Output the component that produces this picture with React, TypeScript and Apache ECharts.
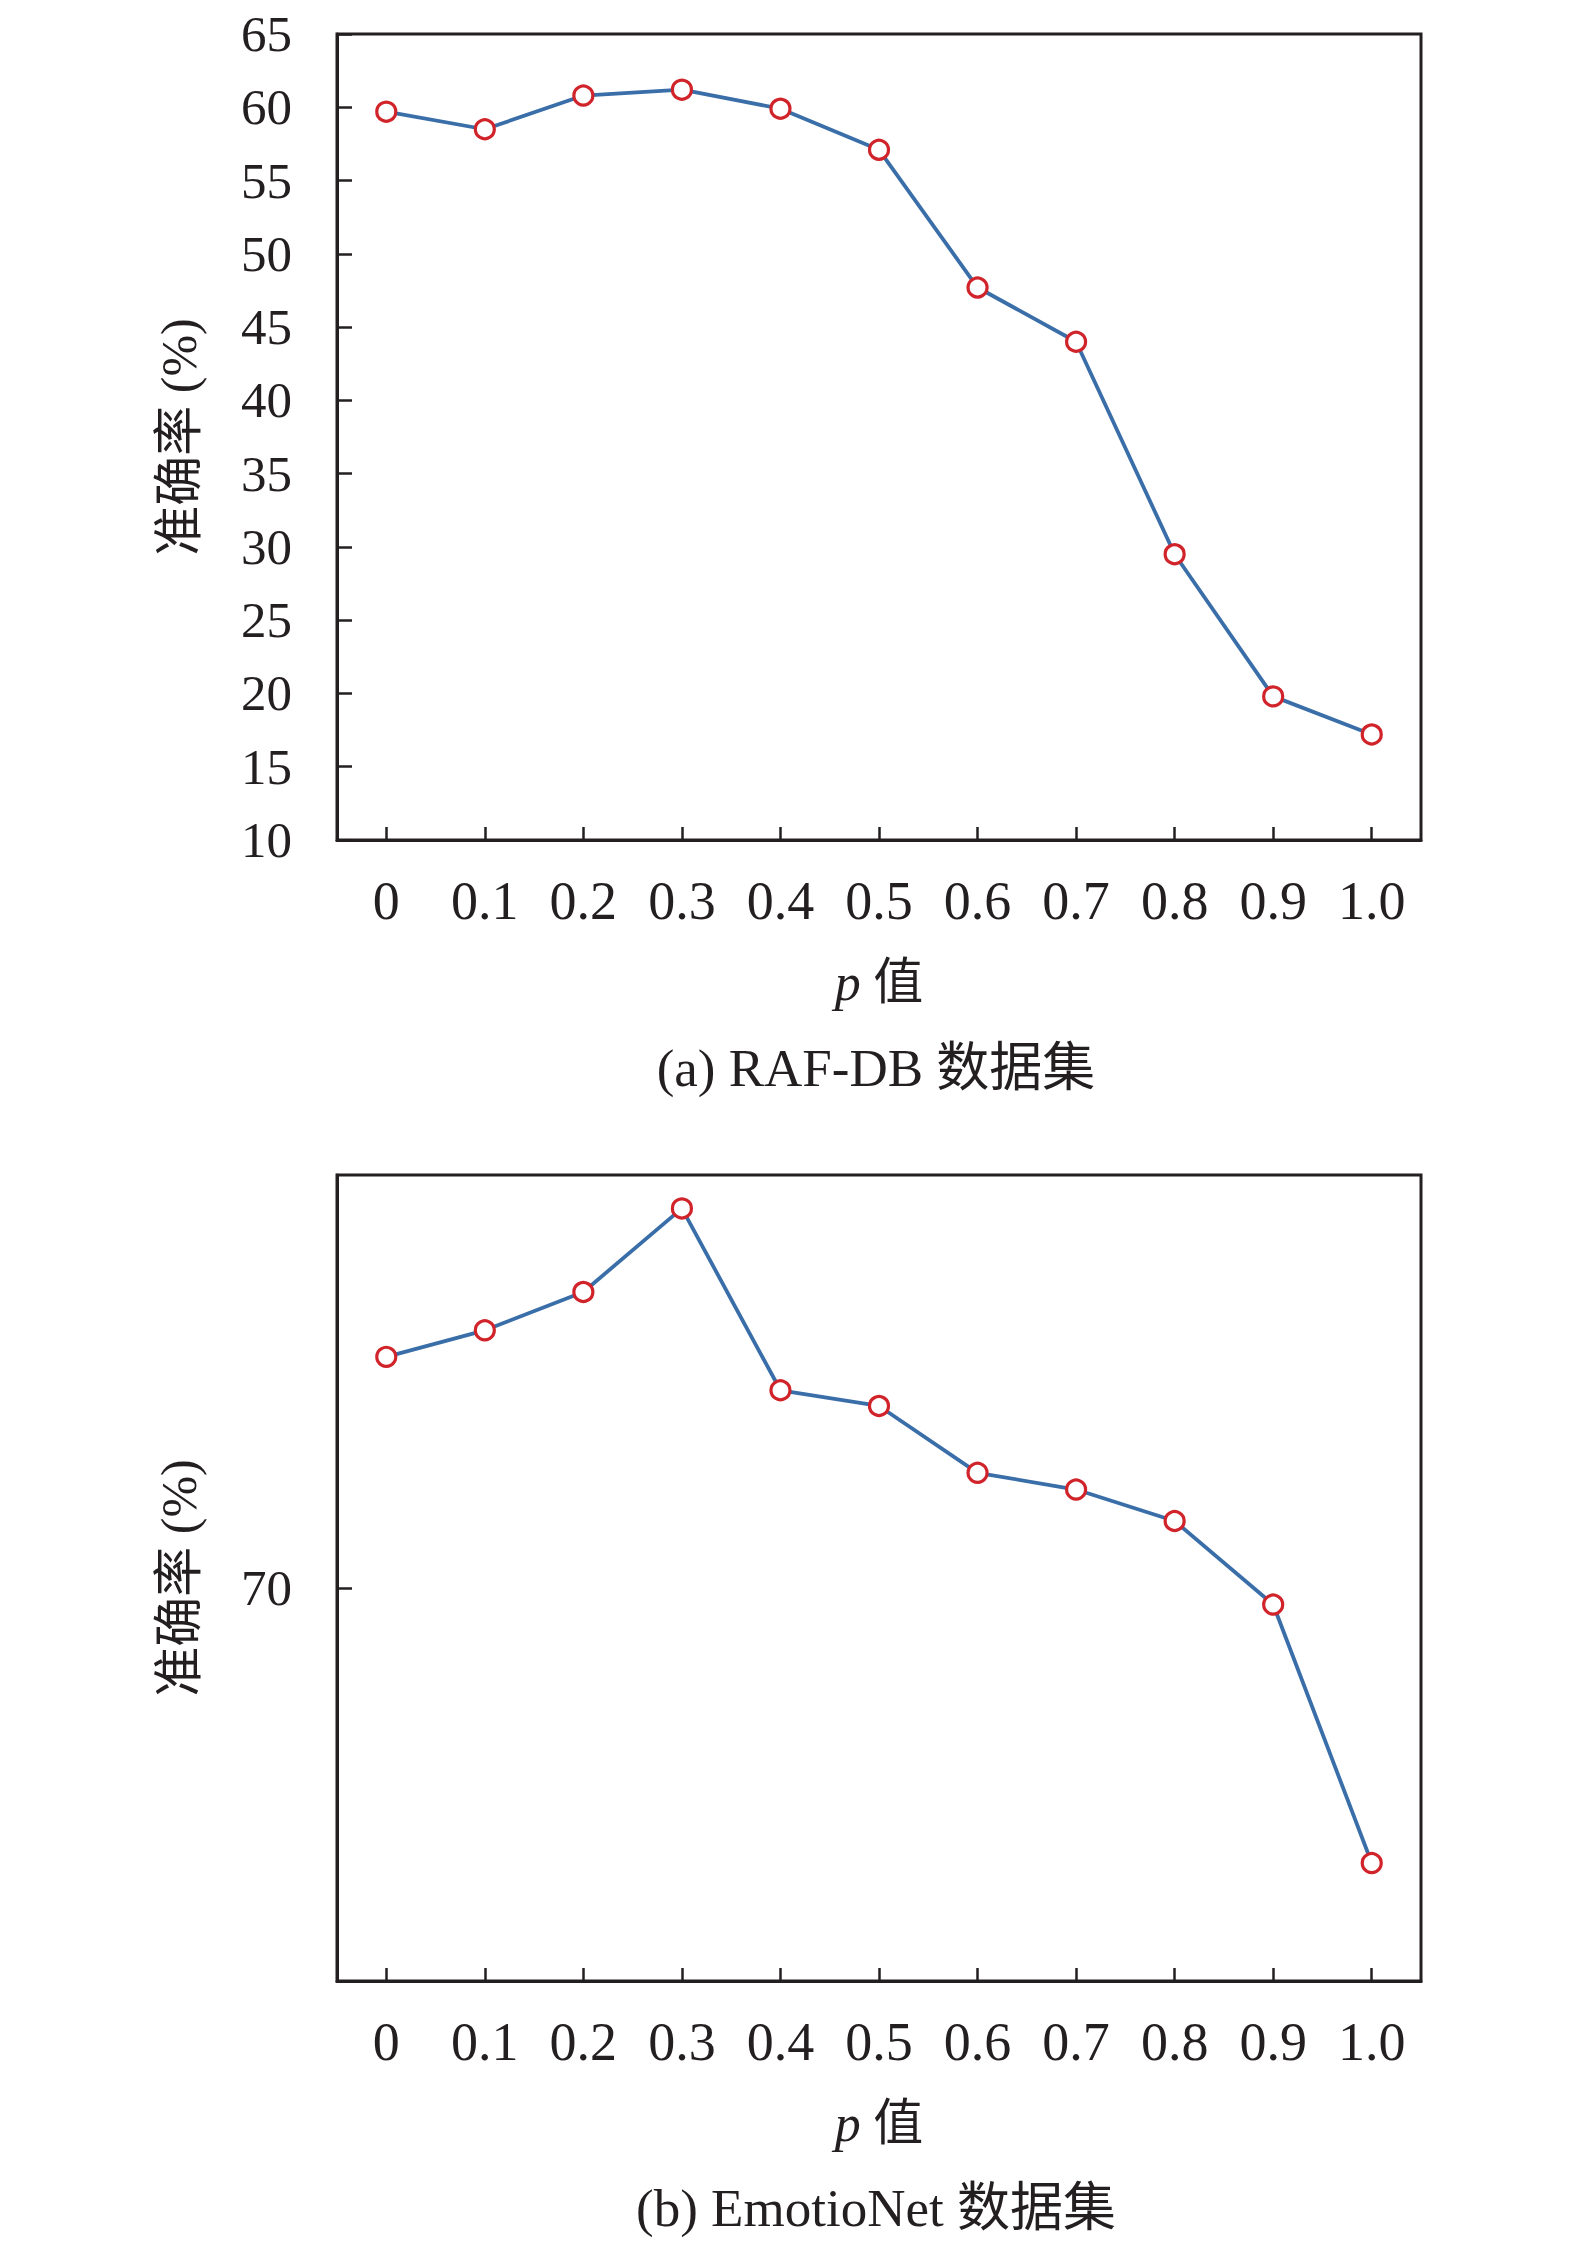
import React, { useEffect, useRef } from "react";
import * as echarts from "echarts";

const categories = ["0", "0.1", "0.2", "0.3", "0.4", "0.5", "0.6", "0.7", "0.8", "0.9", "1.0"];
const rafdbValues = [59.7, 58.5, 60.8, 61.2, 59.9, 57.1, 47.7, 44.0, 29.5, 19.8, 17.2];
const emotioNetValues = [72.35, 72.62, 73.01, 73.86, 72.01, 71.85, 71.17, 71.0, 70.68, 69.83, 67.2];
const rafdbTicks = { min: 10, max: 65, interval: 5 };
const emotioNetTickLabels = [70];
const emotioNetRange = { min: 66, max: 74.2 };

const FONT = "'Liberation Serif', 'Noto Sans CJK SC', serif";
const INK = "#231f20";
const LINE = "#3a6ea8";
const MARK = "#d0232a";

export default function App() {
  const ref = useRef<HTMLDivElement>(null);
  useEffect(() => {
    if (!ref.current) return;
    const chart = echarts.init(ref.current, undefined, { renderer: "svg" });
    const grid = (top: number) => ({
      left: 337,
      top,
      width: 1084,
      height: 806,
      show: true,
      borderColor: INK,
      borderWidth: 3,
      backgroundColor: "transparent",
      containLabel: false,
    });
    const xAxis = (gridIndex: number) => ({
      type: "category",
      gridIndex,
      data: categories,
      boundaryGap: true,
      axisLine: { show: true, lineStyle: { color: INK, width: 3 } },
      axisTick: { show: true, inside: true, length: 13, alignWithLabel: true, lineStyle: { color: INK, width: 2.5 } },
      axisLabel: { fontFamily: FONT, fontSize: 54, color: INK, margin: 34, interval: 0 },
      splitLine: { show: false },
      name: "{i|p} 值",
      nameLocation: "middle",
      nameGap: 116,
      nameTextStyle: {
        fontFamily: FONT,
        fontSize: 50,
        color: INK,
        rich: { i: { fontFamily: FONT, fontStyle: "italic", fontSize: 52, color: INK } },
      },
    });
    const yName = {
      name: "准确率 (%)",
      nameLocation: "middle",
      nameGap: 133,
      nameTextStyle: { fontFamily: FONT, fontSize: 50, color: INK },
    };
    const series = (idx: number, data: number[]) => ({
      type: "line",
      xAxisIndex: idx,
      yAxisIndex: idx,
      data,
      symbol: "circle",
      symbolSize: 19,
      lineStyle: { color: LINE, width: 3.8 },
      itemStyle: { color: "#ffffff", borderColor: MARK, borderWidth: 3.2 },
      z: 3,
    });
    chart.setOption({
      animation: false,
      backgroundColor: "#ffffff",
      grid: [grid(34), grid(1175)],
      xAxis: [xAxis(0), xAxis(1)],
      yAxis: [
        {
          type: "value",
          gridIndex: 0,
          min: rafdbTicks.min,
          max: rafdbTicks.max,
          interval: rafdbTicks.interval,
          axisLine: { show: true, lineStyle: { color: INK, width: 3 } },
          axisTick: { show: true, inside: true, length: 15, lineStyle: { color: INK, width: 2.5 } },
          axisLabel: { fontFamily: FONT, fontSize: 51, color: INK, margin: 45 },
          splitLine: { show: false },
          ...yName,
        },
        {
          type: "value",
          gridIndex: 1,
          min: emotioNetRange.min,
          max: emotioNetRange.max,
          axisLine: { show: true, lineStyle: { color: INK, width: 3 } },
          axisTick: { show: true, inside: true, length: 15, customValues: emotioNetTickLabels, lineStyle: { color: INK, width: 2.5 } },
          axisLabel: { fontFamily: FONT, fontSize: 51, color: INK, margin: 45, customValues: emotioNetTickLabels },
          splitLine: { show: false },
          ...yName,
        },
      ],
      series: [series(0, rafdbValues), series(1, emotioNetValues)],
      graphic: [
        {
          type: "text",
          x: 876,
          y: 1068,
          style: { text: "(a) RAF-DB 数据集", fontFamily: FONT, fontSize: 53, fill: INK, textAlign: "center", textVerticalAlign: "middle" },
        },
        {
          type: "text",
          x: 876,
          y: 2208,
          style: { text: "(b) EmotioNet 数据集", fontFamily: FONT, fontSize: 53, fill: INK, textAlign: "center", textVerticalAlign: "middle" },
        },
      ],
    });
    return () => chart.dispose();
  }, []);
  return <div ref={ref} style={{ position: "absolute", left: 0, top: 0, width: 1575, height: 2251 }} />;
}
